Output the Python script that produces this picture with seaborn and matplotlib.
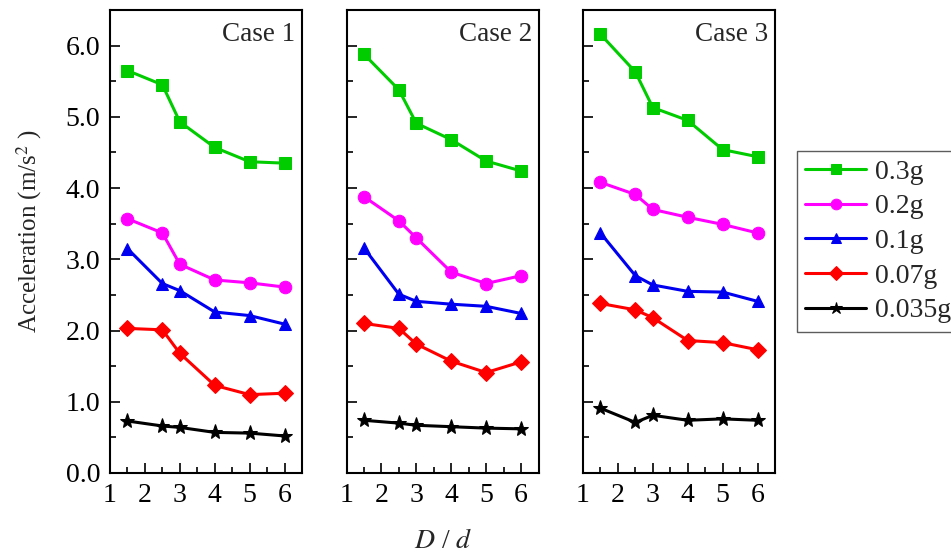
import numpy as np
import pandas as pd
import matplotlib
matplotlib.use("Agg")
import matplotlib.pyplot as plt
from matplotlib.ticker import MultipleLocator
import seaborn as sns

# ---- data ----
dd = [1.5, 2.5, 3, 4, 5, 6]
levels = ["0.3g", "0.2g", "0.1g", "0.07g", "0.035g"]
cases = ["Case 1", "Case 2", "Case 3"]

case1_03 = [5.65, 5.45, 4.93, 4.57, 4.37, 4.35]
case1_02 = [3.57, 3.37, 2.93, 2.71, 2.67, 2.61]
case1_01 = [3.15, 2.66, 2.56, 2.26, 2.21, 2.09]
case1_007 = [2.03, 2.01, 1.68, 1.23, 1.10, 1.12]
case1_0035 = [0.73, 0.66, 0.64, 0.57, 0.56, 0.52]

case2_03 = [5.88, 5.38, 4.91, 4.68, 4.38, 4.24]
case2_02 = [3.88, 3.54, 3.30, 2.82, 2.66, 2.77]
case2_01 = [3.16, 2.51, 2.41, 2.37, 2.34, 2.24]
case2_007 = [2.10, 2.03, 1.81, 1.57, 1.41, 1.56]
case2_0035 = [0.74, 0.70, 0.67, 0.65, 0.63, 0.62]

case3_03 = [6.16, 5.63, 5.13, 4.95, 4.54, 4.44]
case3_02 = [4.08, 3.91, 3.70, 3.59, 3.49, 3.37]
case3_01 = [3.37, 2.77, 2.64, 2.55, 2.54, 2.41]
case3_007 = [2.38, 2.29, 2.18, 1.86, 1.83, 1.73]
case3_0035 = [0.91, 0.71, 0.81, 0.74, 0.76, 0.74]

xtick_labels = ["1", "2", "3", "4", "5", "6"]
ytick_labels = ["0.0", "1.0", "2.0", "3.0", "4.0", "5.0", "6.0"]

series = {
    "Case 1": [case1_03, case1_02, case1_01, case1_007, case1_0035],
    "Case 2": [case2_03, case2_02, case2_01, case2_007, case2_0035],
    "Case 3": [case3_03, case3_02, case3_01, case3_007, case3_0035],
}

rows = []
for c in cases:
    for lev, vals in zip(levels, series[c]):
        for x, y in zip(dd, vals):
            rows.append({"case": c, "level": lev, "D/d": x, "acc": y})
df = pd.DataFrame(rows)

# ---- style ----
sns.set_theme(style="ticks")
plt.rcParams["font.family"] = ["Liberation Serif", "DejaVu Serif"]
plt.rcParams["mathtext.fontset"] = "stix"

palette = {"0.3g": "#00cc00", "0.2g": "#ff00ff", "0.1g": "#0000f0",
           "0.07g": "#ff0000", "0.035g": "#000000"}
markers = {"0.3g": "s", "0.2g": "o", "0.1g": "^", "0.07g": "D", "0.035g": "*"}
msizes = {"0.3g": 8, "0.2g": 9, "0.1g": 9, "0.07g": 8, "0.035g": 11}

W, H = 951, 554
fig = plt.figure(figsize=(W / 100, H / 100), dpi=100)
lefts = [110, 346.5, 583]
aw = 192
bottom_px, top_px = 473, 10
axes = []
for i, c in enumerate(cases):
    ax = fig.add_axes([lefts[i] / W, 1 - bottom_px / H, aw / W, (bottom_px - top_px) / H])
    axes.append(ax)
    sub = df[df["case"] == c]
    for lev in levels:
        s = sub[sub["level"] == lev]
        sns.lineplot(data=s, x="D/d", y="acc", ax=ax, color=palette[lev],
                     marker=markers[lev], markersize=msizes[lev],
                     markeredgecolor=palette[lev], linewidth=2.2,
                     label=lev, legend=False)
    ax.set_xlim(1, 6.5)
    ax.set_ylim(0, 6.5)
    ax.xaxis.set_major_locator(MultipleLocator(1))
    ax.xaxis.set_minor_locator(MultipleLocator(0.5))
    ax.yaxis.set_major_locator(MultipleLocator(1))
    ax.yaxis.set_minor_locator(MultipleLocator(0.5))
    ax.tick_params(which="both", direction="in", top=False, right=False, width=1.2,
                   labelsize=20, colors="black")
    ax.tick_params(which="major", length=7)
    ax.tick_params(which="minor", length=4)
    ax.tick_params(axis="x", which="major", pad=7)
    ax.tick_params(axis="y", which="major", pad=7)
    ax.set_xticks([1, 2, 3, 4, 5, 6])
    ax.set_xticklabels(xtick_labels)
    for sp in ax.spines.values():
        sp.set_visible(True)
        sp.set_linewidth(1.5)
        sp.set_color("black")
    ax.set_xlabel("")
    ax.set_ylabel("")
    if i == 0:
        ax.set_yticks([0, 1, 2, 3, 4, 5, 6])
        ax.set_yticklabels(ytick_labels)
    else:
        ax.set_yticklabels([])
    ax.text(0.965, 0.975, c, transform=ax.transAxes, ha="right", va="top", fontsize=19.5)

fig.text(29 / W, 1 - 231 / H, "Acceleration (m/s$^{2}$ )", rotation=90,
         ha="center", va="center", fontsize=18)
fig.text(443 / W, 1 - 541 / H, "$D$ / $d$", ha="center", va="center", fontsize=20)

handles, labels = axes[2].get_legend_handles_labels()
leg = fig.legend(handles, labels, loc="upper left",
                 bbox_to_anchor=(797 / W, 1 - 151 / H), borderaxespad=0,
                 fontsize=20, frameon=True, fancybox=False, edgecolor="#333333",
                 handlelength=2.2, handletextpad=0.3, labelspacing=0.33,
                 borderpad=0.3, markerscale=0.85)
leg.get_frame().set_linewidth(1.0)

fig.savefig("out.png", dpi=100)
